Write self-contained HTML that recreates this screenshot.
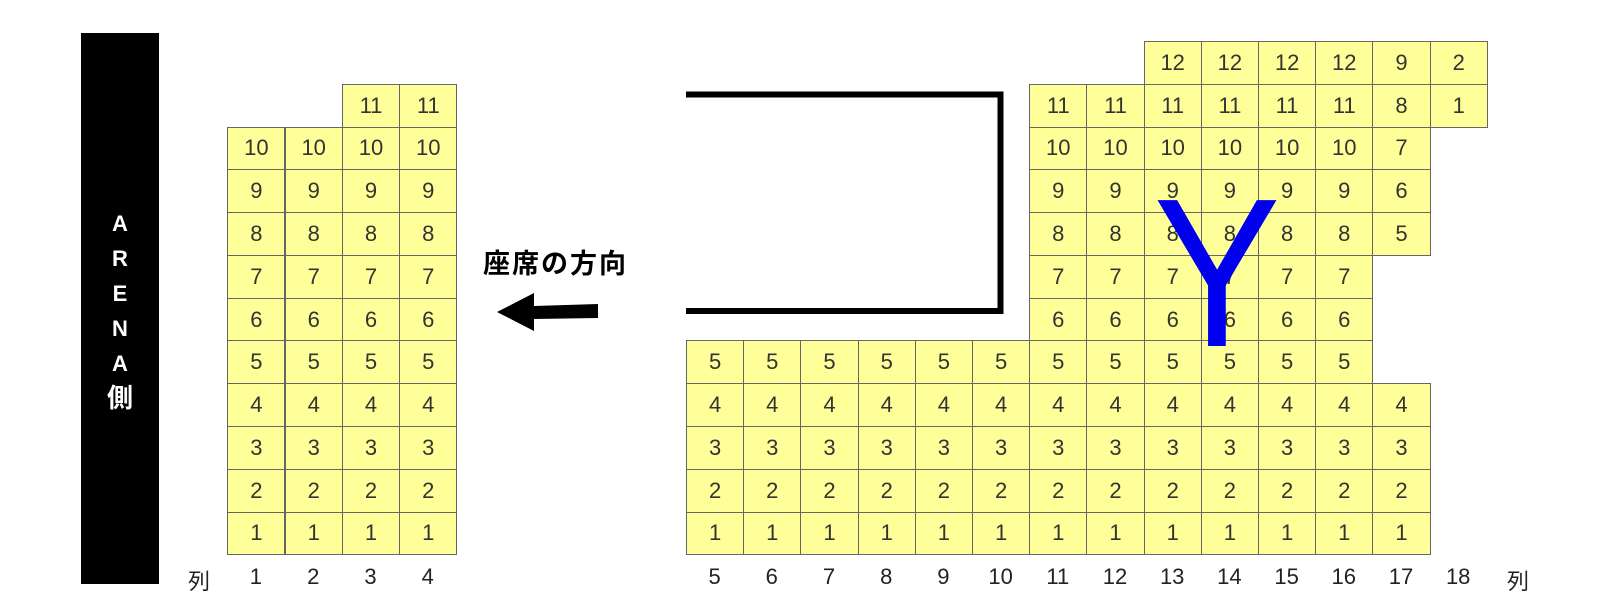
<!DOCTYPE html>
<html><head><meta charset="utf-8"><style>
body{margin:0;width:1601px;height:597px;background:#fff;position:relative;overflow:hidden;font-family:"Liberation Sans","Noto Sans CJK JP",sans-serif}
.c{position:absolute;box-sizing:border-box;background:#ffff99;border:1px solid #666;width:58.2px;height:43.8px;display:flex;align-items:center;justify-content:center;font-size:22px;color:#333}
.l{position:absolute;width:57.2px;text-align:center;font-size:22px;color:#222;top:564px}
</style></head><body>
<div style="position:absolute;left:81px;top:33px;width:78px;height:551px;background:#000"></div>
<div style="position:absolute;left:81px;width:78px;top:206px;text-align:center;color:#fff;font-weight:bold;font-size:22px;line-height:35px">A<br>R<br>E<br>N<br>A<br><span style="font-size:26px">側</span></div>
<div style="position:absolute;left:483px;top:242px;font-size:27px;font-weight:bold;letter-spacing:2px;color:#000">座席の方向</div>
<svg width="1601" height="597" style="position:absolute;left:0;top:0">
<polyline points="686,94.5 1000.5,94.5 1000.5,311 686,311" fill="none" stroke="#000" stroke-width="6"/>
<polygon points="497,312 534,293 534,306 598,304 598,318 534,319 534,331" fill="#000"/>
</svg>
<div id="g"></div>
<svg width="1601" height="597" style="position:absolute;left:0;top:0;pointer-events:none">
<text transform="translate(1217,346) scale(0.9,1)" text-anchor="middle" font-family="Liberation Sans" font-size="212" fill="#0000ee">Y</text>
</svg>
<script>
var g=document.getElementById('g'),h='';
var W=57.2,H=42.78,B=554.3;
function cell(x,r,t){h+='<div class="c" style="left:'+x+'px;top:'+(B-r*H)+'px">'+t+'</div>';}
for(var c=0;c<4;c++)for(var r=1;r<=11;r++){if(r==11&&c<2)continue;cell(227.3+c*57.3,r,r);}
for(var c=5;c<=18;c++){var x=686+(c-5)*W;
 if(c<=16){for(var r=1;r<=5;r++)cell(x,r,r);}
 if(c>=11&&c<=16){for(var r=6;r<=11;r++)cell(x,r,r);}
 if(c>=13&&c<=16)cell(x,12,12);
 if(c==17){for(var r=1;r<=4;r++)cell(x,r,r);for(var r=8;r<=12;r++)cell(x,r,r-3);}
 if(c==18){cell(x,12,2);cell(x,11,1);}
}
h+='<div class="l" style="left:'+(199-28.6)+'px">列</div>';
for(var c=0;c<4;c++)h+='<div class="l" style="left:'+(227.3+c*57.3)+'px">'+(c+1)+'</div>';
for(var c=5;c<=18;c++)h+='<div class="l" style="left:'+(686+(c-5)*W)+'px">'+c+'</div>';
h+='<div class="l" style="left:'+(1518-28.6)+'px">列</div>';
g.innerHTML=h;
</script>
</body></html>
